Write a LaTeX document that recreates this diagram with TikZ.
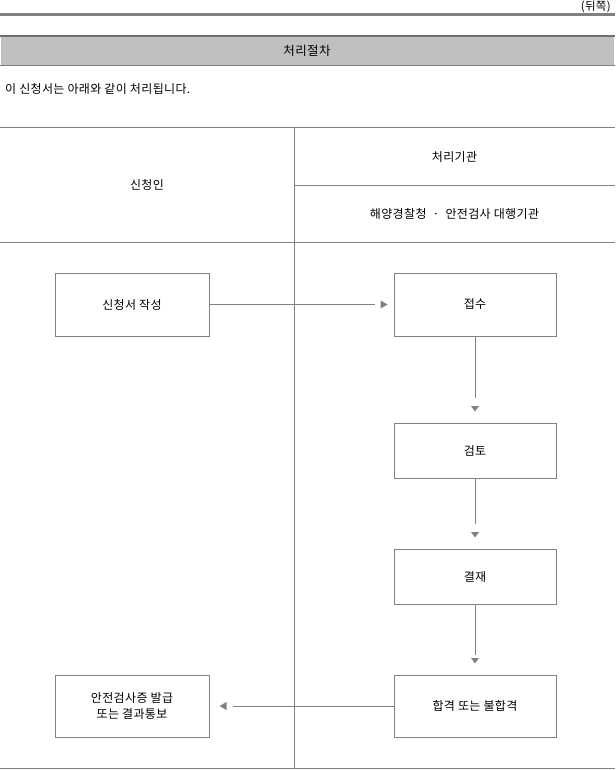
\documentclass[tikz,border=0pt]{standalone}
\usepackage{fontspec}
\setmainfont[LetterSpace=3]{Noto Sans CJK KR}
\usetikzlibrary{calc}
\definecolor{lgray}{HTML}{808080}
\definecolor{dgray}{HTML}{6E6E6E}
\definecolor{band}{HTML}{C0C0C0}
\tikzset{
  txt/.style={font=\fontsize{12}{15}\selectfont, inner sep=0pt, text=black},
  box/.style={draw=lgray, line width=1pt, inner sep=0pt, align=center, font=\fontsize{12}{16}\selectfont},
  conn/.style={draw=lgray, line width=1pt},
  tipc/.style={fill=lgray},
  rule/.style={draw=lgray, line width=1pt}
}
\begin{document}
\begin{tikzpicture}[x=1pt,y=-1pt]
\useasboundingbox (0,0) rectangle (615,770);
% top area
\node[txt, anchor=north east, font=\fontsize{11.5}{14}\selectfont] (back) at (611,0.5) {(뒤쪽)};
\draw[draw=lgray, line width=3pt] (0,15) -- (615,15);
\fill[band] (1,37) rectangle (614,66);
\draw[draw=dgray, line width=2.5pt] (0,36) -- (615,36);
\draw[rule] (0,66) -- (615,66);
\node[txt, font=\fontsize{12.5}{15}\selectfont] (title) at (307,51) {처리절차};
\node[txt, anchor=west] (intro) at (5,89) {이 신청서는 아래와 같이 처리됩니다.};
% table
\draw[rule] (0,128) -- (615,128);
\draw[rule] (294,185) -- (615,185);
\draw[rule] (0,242) -- (615,242);
\draw[rule] (294,128) -- (294,768);
\draw[rule] (0,768) -- (615,768);
\node[txt] (applicant) at (147,185) {신청인};
\node[txt] (agency) at (454.5,157) {처리기관};
\node[txt] (agency2) at (454.5,213.5) {해양경찰청 \ · \ 안전검사 대행기관};
% boxes
\node[box, minimum width=154pt, minimum height=63pt] (b1) at (132,304.5) {신청서 작성};
\node[box, minimum width=162pt, minimum height=63pt] (b2) at (475,304.5) {접수};
\node[box, minimum width=162pt, minimum height=55pt] (b3) at (475,450.5) {검토};
\node[box, minimum width=162pt, minimum height=55pt] (b4) at (475,576.5) {결재};
\node[box, minimum width=162pt, minimum height=62pt] (b5) at (475,706) {합격 또는 불합격};
\node[box, minimum width=154pt, minimum height=62pt] (b6) at (132,706) {안전검사증 발급\\또는 결과통보};
% connectors
\draw[conn] (b1.east) -- ($(b2.west)+(-19,0)$);
\fill[tipc] ($(b2.west)+(-6,0)$) -- ++(-7,-4) -- ++(0,8) -- cycle;
\draw[conn] (b2.south) -- ($(b3.north)+(0,-25)$);
\fill[tipc] ($(b3.north)+(0,-11)$) -- ++(-4,-5.5) -- ++(8,0) -- cycle;
\draw[conn] (b3.south) -- ($(b4.north)+(0,-25)$);
\fill[tipc] ($(b4.north)+(0,-11)$) -- ++(-4,-5.5) -- ++(8,0) -- cycle;
\draw[conn] (b4.south) -- ($(b5.north)+(0,-20)$);
\fill[tipc] ($(b5.north)+(0,-11)$) -- ++(-4,-5.5) -- ++(8,0) -- cycle;
\draw[conn] (b5.west) -- ($(b6.east)+(23,0)$);
\fill[tipc] ($(b6.east)+(10,0)$) -- ++(7,-4) -- ++(0,8) -- cycle;
\end{tikzpicture}
\end{document}
